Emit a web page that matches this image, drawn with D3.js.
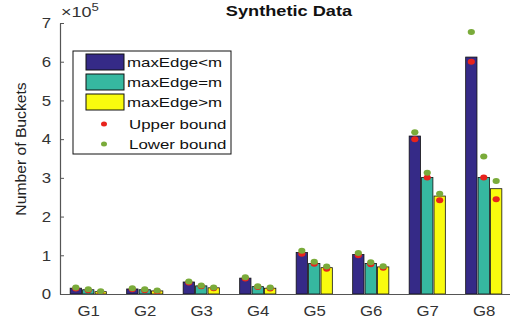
<!DOCTYPE html>
<html>
<head>
<meta charset="utf-8">
<script src="https://cdn.jsdelivr.net/npm/d3@7"></script>
<style>
  body { margin: 0; background: #fff; }
  svg { font-family: "Liberation Sans", Arial, sans-serif; }
</style>
</head>
<body>
<div id="chart"></div>
<script>
// values in units of 1e5
const groups = ["G1", "G2", "G3", "G4", "G5", "G6", "G7", "G8"];
const seriesNames = ["maxEdge<m", "maxEdge=m", "maxEdge>m"];
const lessVals  = [0.15, 0.13, 0.31, 0.41, 1.07, 1.02, 4.08, 6.12];
const equalVals = [0.11, 0.11, 0.21, 0.19, 0.79, 0.79, 3.01, 3.01];
const moreVals  = [0.06, 0.08, 0.16, 0.15, 0.68, 0.70, 2.53, 2.72];
const upperLess  = [0.14, 0.12, 0.30, 0.40, 1.04, 1.00, 4.00, 6.00];
const upperEqual = [0.10, 0.10, 0.20, 0.18, 0.78, 0.77, 3.01, 3.01];
const upperMore  = [0.05, 0.07, 0.15, 0.14, 0.65, 0.68, 2.42, 2.45];
const lowerLess  = [0.17, 0.15, 0.32, 0.43, 1.12, 1.06, 4.18, 6.77];
const lowerEqual = [0.12, 0.12, 0.22, 0.20, 0.83, 0.82, 3.13, 3.55];
const lowerMore  = [0.07, 0.09, 0.17, 0.17, 0.71, 0.72, 2.59, 2.92];
const yTicks = [0, 1, 2, 3, 4, 5, 6, 7];

const colors = ["#352a87", "#36b8a0", "#f9fb0e"];
const upperColor = "#e8231c", lowerColor = "#7aab3a";

const width = 510, height = 322;
const stretch = 1.25; // the reference text looks widened
const svg = d3.select("#chart").append("svg")
  .attr("width", width).attr("height", height);

const x = d3.scaleLinear().domain([0.5, 8.5]).range([60, 512]);
const y = d3.scaleLinear().domain([0, 7]).range([294, 23]);
const offsets = [-0.22, 0, 0.22];
const barW = 0.2;

const bars = [lessVals, equalVals, moreVals];
const uppers = [upperLess, upperEqual, upperMore];
const lowers = [lowerLess, lowerEqual, lowerMore];

const label = (g, px, py, txt, size, opts = {}) => {
  const t = g.append("text")
    .attr("transform", `translate(${px},${py}) ${opts.rotate ? "rotate(-90)" : ""} scale(${opts.sx || stretch},1)`)
    .attr("text-anchor", opts.anchor || "start")
    .attr("fill", opts.fill || "#111")
    .style("font-size", size + "px")
    .style("font-weight", opts.bold ? "bold" : "normal")
    .text(txt);
  return t;
};

// bars
bars.forEach((vals, s) => {
  svg.append("g").selectAll("rect")
    .data(vals)
    .enter()
    .append("rect")
      .attr("x", (d, i) => x(i + 1 + offsets[s] - barW / 2))
      .attr("y", d => y(d))
      .attr("width", x(barW) - x(0))
      .attr("height", d => y(0) - y(d))
      .attr("fill", colors[s])
      .attr("stroke", "#111")
      .attr("stroke-width", 0.8);
});

// bound markers
uppers.forEach((vals, s) => {
  svg.append("g").selectAll("ellipse")
    .data(vals)
    .enter()
    .append("ellipse")
      .attr("cx", (d, i) => x(i + 1 + offsets[s]))
      .attr("cy", d => y(d))
      .attr("rx", 3.6).attr("ry", 3)
      .attr("fill", upperColor);
});
lowers.forEach((vals, s) => {
  svg.append("g").selectAll("ellipse")
    .data(vals)
    .enter()
    .append("ellipse")
      .attr("cx", (d, i) => x(i + 1 + offsets[s]))
      .attr("cy", d => y(d))
      .attr("rx", 3.6).attr("ry", 3)
      .attr("fill", lowerColor);
});

// axes
const yAxis = svg.append("g")
  .attr("transform", "translate(60,0)")
  .call(d3.axisLeft(y).tickValues(yTicks).tickFormat(d3.format("d"))
    .tickSizeInner(-4).tickSizeOuter(0).tickPadding(9));
const xAxis = svg.append("g")
  .attr("transform", "translate(0,294)")
  .call(d3.axisBottom(x).tickValues(d3.range(1, 9)).tickFormat(d => groups[d - 1])
    .tickSizeInner(0).tickSizeOuter(0).tickPadding(11));
[yAxis, xAxis].forEach(a => {
  a.select(".domain").attr("stroke", "#555").attr("stroke-width", 1.2);
  a.selectAll(".tick line").attr("stroke", "#555");
  a.selectAll("text").attr("fill", "#333").style("font-size", "15px")
    .style("font-family", "'Liberation Sans', Arial, sans-serif");
});
xAxis.selectAll("text").attr("transform", "scale(1.12,1)");
yAxis.selectAll("text").attr("x", -9 / 1.12).attr("transform", "scale(1.12,1)");

// exponent
const ex = svg.append("text").attr("transform", "translate(61,17) scale(1.2,1)").attr("fill", "#333")
  .style("font-size", "15px");
ex.append("tspan").text("\u00d710");
ex.append("tspan").attr("dy", -6).style("font-size", "11px").text("5");

// title
label(svg, 289, 16, "Synthetic Data", 14, { anchor: "middle", bold: true, sx: 1.3 });

// y label
label(svg, 26, 149, "Number of Buckets", 14, { anchor: "middle", rotate: true, sx: 1.12, fill: "#222" });

// legend
const lg = svg.append("g");
lg.append("rect").attr("x", 73).attr("y", 51).attr("width", 158).attr("height", 103)
  .attr("fill", "#fff").attr("stroke", "#111").attr("stroke-width", 1);
const rowY = [62, 82, 102, 124, 144];
seriesNames.forEach((name, i) => {
  lg.append("rect").attr("x", 86).attr("y", rowY[i] - 8).attr("width", 38).attr("height", 16)
    .attr("fill", colors[i]).attr("stroke", "#111").attr("stroke-width", 1);
  label(lg, 127, rowY[i] + 5, name, 13.5);
});
[["Upper bound", upperColor], ["Lower bound", lowerColor]].forEach(([name, c], j) => {
  const yy = rowY[3 + j];
  lg.append("ellipse").attr("cx", 104).attr("cy", yy).attr("rx", 3).attr("ry", 2.5).attr("fill", c);
  label(lg, 129, yy + 5, name, 13.5);
});
</script>
</body>
</html>
